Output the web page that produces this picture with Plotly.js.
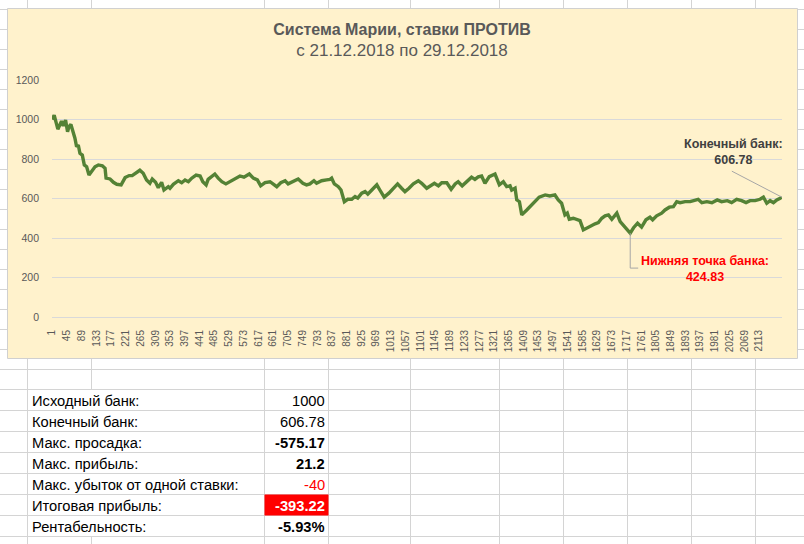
<!DOCTYPE html>
<html><head><meta charset="utf-8">
<script src="https://cdn.plot.ly/plotly-3.0.1.min.js"></script>
<style>html,body{margin:0;padding:0;background:#fff;overflow:hidden}#chart{width:804px;height:544px}</style>
</head><body><div id="chart"></div><script>
// ---- data ----
const betIndex = [1,7,18,24,29,34,41,47,51,57,
64,69,74,79,84,91,97,104,111,119,
129,139,151,159,162,174,184,194,207,219,
231,240,249,263,273,283,293,300,310,318,
328,335,348,353,363,378,388,398,408,418,
431,443,451,461,467,478,487,497,508,520,
532,547,562,574,590,602,614,624,637,652,
662,672,684,697,706,720,736,750,761,771,
783,791,806,821,831,836,844,856,864,874,
884,896,906,914,926,936,944,956,971,980,
993,1007,1020,1033,1045,1055,1067,1080,1095,1105,
1120,1133,1143,1155,1165,1180,1193,1205,1214,1226,
1240,1254,1264,1274,1284,1289,1294,1307,1324,1329,
1337,1349,1359,1369,1374,1384,1389,1397,1404,1419,
1439,1456,1474,1488,1503,1513,1523,1533,1540,1546,
1558,1568,1578,1588,1598,1613,1623,1633,1643,1653,
1663,1673,1688,1698,1710,1718,1728,1738,1750,1762,
1775,1787,1795,1807,1822,1832,1845,1857,1867,1877,
1892,1907,1922,1931,1942,1957,1972,1988,2001,2018,
2031,2046,2061,2074,2086,2101,2116,2126,2136,2146,
2156,2166,2176,2181];
const bankValues = [1000,1022,951,972,992,968,997,938,963,975,
938,905,862,871,829,820,770,761,719,736,
761,770,766,753,703,699,682,672,669,706,
716,716,728,743,728,694,677,699,682,655,
682,643,660,652,672,690,680,694,685,703,
719,714,685,669,697,714,724,703,685,674,
685,697,714,708,724,703,694,664,680,685,
674,660,680,690,674,685,699,677,669,674,
690,677,690,694,697,703,674,660,643,584,
596,596,610,602,627,635,622,643,669,643,
607,627,652,674,652,635,652,674,690,677,
652,664,677,664,680,680,647,674,685,664,
685,708,697,710,714,697,677,711,724,703,
669,685,660,664,643,652,593,584,517,542,
576,607,618,613,618,593,576,517,526,495,
500,492,488,441,450,467,472,478,500,512,
517,495,526,483,458,441,424.83,452,475,455,
492,505,492,512,526,542,556,559,584,579,
584,584,589,596,579,584,579,593,584,589,
579,596,589,579,589,589,596,607,576,589,
579,593,601,606.78];
const xTickValues = [1,45,89,133,177,221,265,309,353,397,441,485,529,573,617,661,705,749,793,837,881,925,969,1013,1057,1101,1145,1189,1233,1277,1321,1365,1409,1453,1497,1541,1585,1629,1673,1717,1761,1805,1849,1893,1937,1981,2025,2069,2113];
const xTickLabels = ['1','45','89','133','177','221','265','309','353','397','441','485','529','573','617','661','705','749','793','837','881','925','969','1013','1057','1101','1145','1189','1233','1277','1321','1365','1409','1453','1497','1541','1585','1629','1673','1717','1761','1805','1849','1893','1937','1981','2025','2069','2113'];
const yTickValues = [0,200,400,600,800,1000,1200];
const titleText = 'Система Марии, ставки ПРОТИВ';
const subtitleText = 'с 21.12.2018 по 29.12.2018';
const endLabel = 'Конечный банк:';
const minLabel = 'Нижняя точка банка:';
const tableLabels = ['Исходный банк:','Конечный банк:','Макс. просадка:','Макс. прибыль:','Макс. убыток от одной ставки:','Итоговая прибыль:','Рентабельность:'];
const tableValues = ['1000','606.78','-575.17','21.2','-40','-393.22','-5.93%'];

// ---- layout geometry (pixels) ----
const W=804,H=544,M={l:52,r:22,t:80,b:227};
const PW=W-M.l-M.r, PH=H-M.t-M.b;
const px = X => (X-M.l)/PW;
const py = Y => (M.t+PH-Y)/PH;
const FONT = 'Liberation Sans, Arial, sans-serif';
const GRID = '#d4d4d4';

const shapes = [];
// spreadsheet grid
const rowLines = [9,29,49,69,89,109,129,149,169,189,209,229,249,269,289,309,329,349,369,389,410,431,452,473,494,515,536];
const colLines = [27,91,264,328,410,499,563,627,691,755];
rowLines.forEach(y=>shapes.push({type:'line',xref:'paper',yref:'paper',x0:px(0),x1:px(W),y0:py(y+0.5),y1:py(y+0.5),line:{color:GRID,width:1},layer:'below'}));
colLines.forEach(x=>{
  const segs = x===91 ? [[0,389.5],[536.5,H]] : [[0,H]];
  segs.forEach(s=>shapes.push({type:'line',xref:'paper',yref:'paper',x0:px(x+0.5),x1:px(x+0.5),y0:py(s[0]),y1:py(s[1]),line:{color:GRID,width:1},layer:'below'}));
});
// red cell
shapes.push({type:'rect',xref:'paper',yref:'paper',x0:px(264.5),x1:px(328.5),y0:py(494.5),y1:py(515.5),fillcolor:'#ff0000',line:{width:0},layer:'below'});
// chart area
shapes.push({type:'rect',xref:'paper',yref:'paper',x0:px(7.5),x1:px(797.5),y0:py(8.5),y1:py(358.5),fillcolor:'#fff2cc',line:{color:'#d0d0d0',width:1},layer:'below'});

const n = bankValues.length;
const lastX = betIndex[n-1], lastY = bankValues[n-1];
let minI = 0; bankValues.forEach((v,i)=>{ if(v<bankValues[minI]) minI=i; });
const minX = betIndex[minI], minY = bankValues[minI];

// leader lines anchored to the data points
shapes.push({type:'line',xref:'x',yref:'y',xsizemode:'pixel',ysizemode:'pixel',xanchor:lastX,yanchor:lastY,x0:0,y0:0,x1:-50,y1:26,line:{color:'#a6a6a6',width:1}});
shapes.push({type:'path',xref:'x',yref:'y',xsizemode:'pixel',ysizemode:'pixel',xanchor:minX,yanchor:minY,path:'M0,0 L0,-35 L8,-35',line:{color:'#a6a6a6',width:1}});

const annotations = [];
annotations.push({xref:'paper',yref:'paper',x:px(733),y:py(151.5),xanchor:'center',yanchor:'middle',showarrow:false,
  text:'<b>'+endLabel+'<br>'+lastY.toFixed(2)+'</b>',font:{family:FONT,size:12.5,color:'#404040'}});
annotations.push({xref:'paper',yref:'paper',x:px(705),y:py(268.5),xanchor:'center',yanchor:'middle',showarrow:false,
  text:'<b>'+minLabel+'<br>'+minY.toFixed(2)+'</b>',font:{family:FONT,size:12.5,color:'#ff0000'}});

const rowCenters = [400,421,442,463,484,505,526];
const boldVals = [false,false,true,true,false,true,true];
tableLabels.forEach((t,i)=>{
  annotations.push({xref:'paper',yref:'paper',x:px(30),y:py(rowCenters[i]+1),xanchor:'left',yanchor:'middle',showarrow:false,
    text:t,font:{family:FONT,size:14.7,color:'#000'}});
  let col = '#000'; if(i===4) col='#ff0000'; if(i===5) col='#ffffff';
  annotations.push({xref:'paper',yref:'paper',x:px(326.5),y:py(rowCenters[i]+1),xanchor:'right',yanchor:'middle',showarrow:false,
    text: boldVals[i] ? '<b>'+tableValues[i]+'</b>' : tableValues[i],font:{family:FONT,size:14.7,color:col}});
});

const trace = {x:betIndex,y:bankValues,type:'scatter',mode:'lines',line:{color:'#548235',width:3.4},hoverinfo:'x+y'};

const layout = {
  width:W,height:H,margin:M,
  paper_bgcolor:'#ffffff',plot_bgcolor:'rgba(0,0,0,0)',showlegend:false,
  title:{text:'<b>'+titleText+'</b><br><span style="font-size:17px">'+subtitleText+'</span>',
    font:{family:FONT,size:16,color:'#595959'},x:0.5,xref:'container',xanchor:'center',y:1-35/H,yref:'container',yanchor:'top'},
  xaxis:{range:[0.5,lastX+0.5],tickmode:'array',tickvals:xTickValues,ticktext:xTickLabels,tickangle:-90,
    showgrid:false,zeroline:false,showline:false,ticks:'',ticklabelstandoff:10,
    tickfont:{family:FONT,size:10,color:'#595959'},fixedrange:true},
  yaxis:{range:[0,1200],tickmode:'array',tickvals:yTickValues,showgrid:true,gridcolor:'#d9d9d9',gridwidth:1,
    zeroline:true,zerolinecolor:'#d9d9d9',zerolinewidth:1,showline:false,ticks:'',ticklabelstandoff:12,
    tickfont:{family:FONT,size:10.5,color:'#595959'},fixedrange:true},
  shapes:shapes,annotations:annotations
};
Plotly.newPlot('chart',[trace],layout,{displayModeBar:false,staticPlot:true});
</script></body></html>
